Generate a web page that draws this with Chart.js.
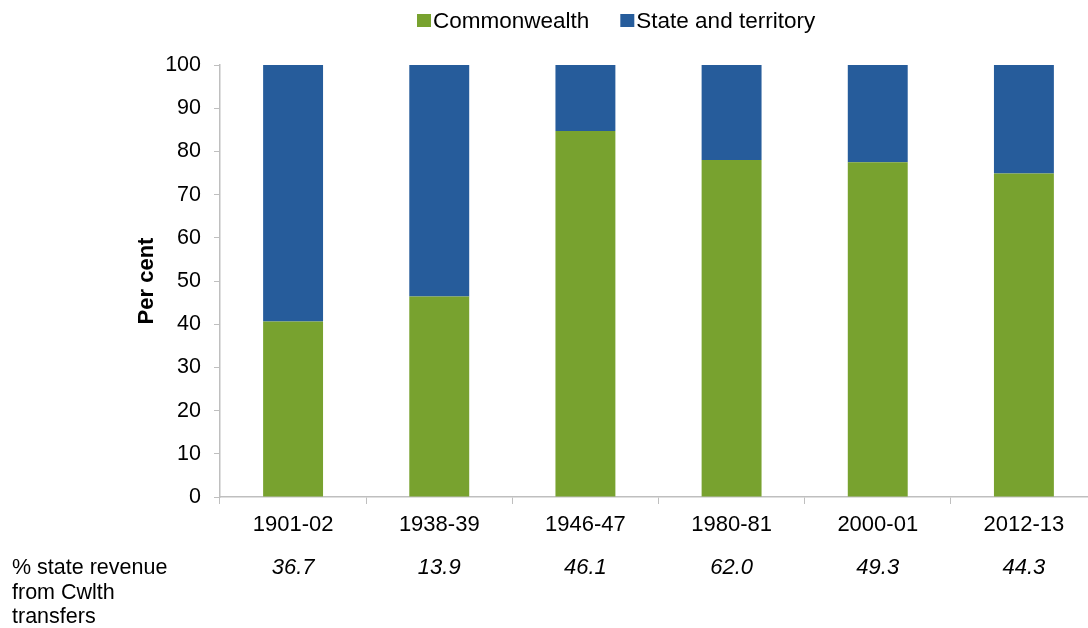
<!DOCTYPE html>
<html>
<head>
<meta charset="utf-8">
<script src="https://cdn.jsdelivr.net/npm/chart.js@4.4.0/dist/chart.umd.min.js"></script>
<style>
  html, body { margin: 0; padding: 0; background: #fff; overflow: hidden; }
  #wrap { position: relative; width: 1100px; height: 628px; }
</style>
</head>
<body>
<div id="wrap"><canvas id="chart" width="1100" height="628"></canvas></div>
<script>
// Chart data
const years = ['1901-02', '1938-39', '1946-47', '1980-81', '2000-01', '2012-13'];
const commonwealth = [40.6, 46.4, 84.7, 78.0, 77.5, 74.9];
const stateTerritory = [59.4, 53.6, 15.3, 22.0, 22.5, 25.1];
const revenueFromCwlth = ['36.7', '13.9', '46.1', '62.0', '49.3', '44.3'];
const rowLabel = ['% state revenue', 'from Cwlth', 'transfers'];

const GREEN = '#78A22F';
const BLUE = '#265C9B';
const AXIS = '#BFBFBF';
const FONT = '"Liberation Sans", Arial, sans-serif';

// Legend drawn above the plot, and the revenue row drawn under the x axis
const extrasPlugin = {
    id: 'extras',
    afterDraw(chart) {
        const ctx = chart.ctx;
        const x = chart.scales.x;
        ctx.save();
        ctx.fillStyle = '#000';
        ctx.textBaseline = 'alphabetic';

        // legend
        ctx.font = '22.5px ' + FONT;
        let lx = 417;
        chart.data.datasets.forEach(ds => {
            ctx.fillStyle = ds.backgroundColor;
            ctx.fillRect(lx, 14, 14, 13);
            ctx.fillStyle = '#000';
            ctx.textAlign = 'left';
            ctx.fillText(ds.label, lx + 16, 28);
            lx += 16 + ctx.measureText(ds.label).width + 31;
        });

        // row label
        ctx.font = '21.5px ' + FONT;
        ctx.textAlign = 'left';
        rowLabel.forEach((line, i) => {
            ctx.fillText(line, 12, 574 + i * 24.5);
        });

        // italic values under each category
        ctx.font = 'italic 22px ' + FONT;
        ctx.textAlign = 'center';
        revenueFromCwlth.forEach((v, i) => {
            ctx.fillText(v, x.getPixelForValue(i), 574);
        });
        ctx.restore();
    }
};

new Chart(document.getElementById('chart'), {
    type: 'bar',
    data: {
        labels: years,
        datasets: [{
            label: 'Commonwealth',
            data: commonwealth,
            backgroundColor: GREEN,
            categoryPercentage: 1,
            barPercentage: 0.41
        }, {
            label: 'State and territory',
            data: stateTerritory,
            backgroundColor: BLUE,
            categoryPercentage: 1,
            barPercentage: 0.41
        }]
    },
    options: {
        responsive: false,
        animation: false,
        devicePixelRatio: 1,
        layout: { padding: { top: 65, left: 130, right: 3, bottom: 0 } },
        plugins: {
            legend: { display: false },
            tooltip: { enabled: false }
        },
        scales: {
            x: {
                stacked: true,
                grid: { drawOnChartArea: false, color: AXIS, tickLength: 7, offset: true },
                border: { color: AXIS, width: 1.5 },
                ticks: { color: '#000', font: { family: FONT, size: 22 }, padding: 8, maxRotation: 0 },
                afterFit(scale) { scale.height = 131; }
            },
            y: {
                stacked: true,
                min: 0,
                max: 100,
                grid: { drawOnChartArea: false, color: AXIS, tickLength: 6 },
                border: { color: AXIS, width: 1.5 },
                ticks: { stepSize: 10, color: '#000', font: { family: FONT, size: 21.5 }, padding: 13 },
                title: {
                    display: true,
                    text: 'Per cent',
                    color: '#000',
                    font: { family: FONT, size: 22, weight: 'bold' },
                    padding: { top: 4, bottom: 0 }
                },
                afterFit(scale) { scale.width = 90; }
            }
        }
    },
    plugins: [extrasPlugin]
});
</script>
</body>
</html>
